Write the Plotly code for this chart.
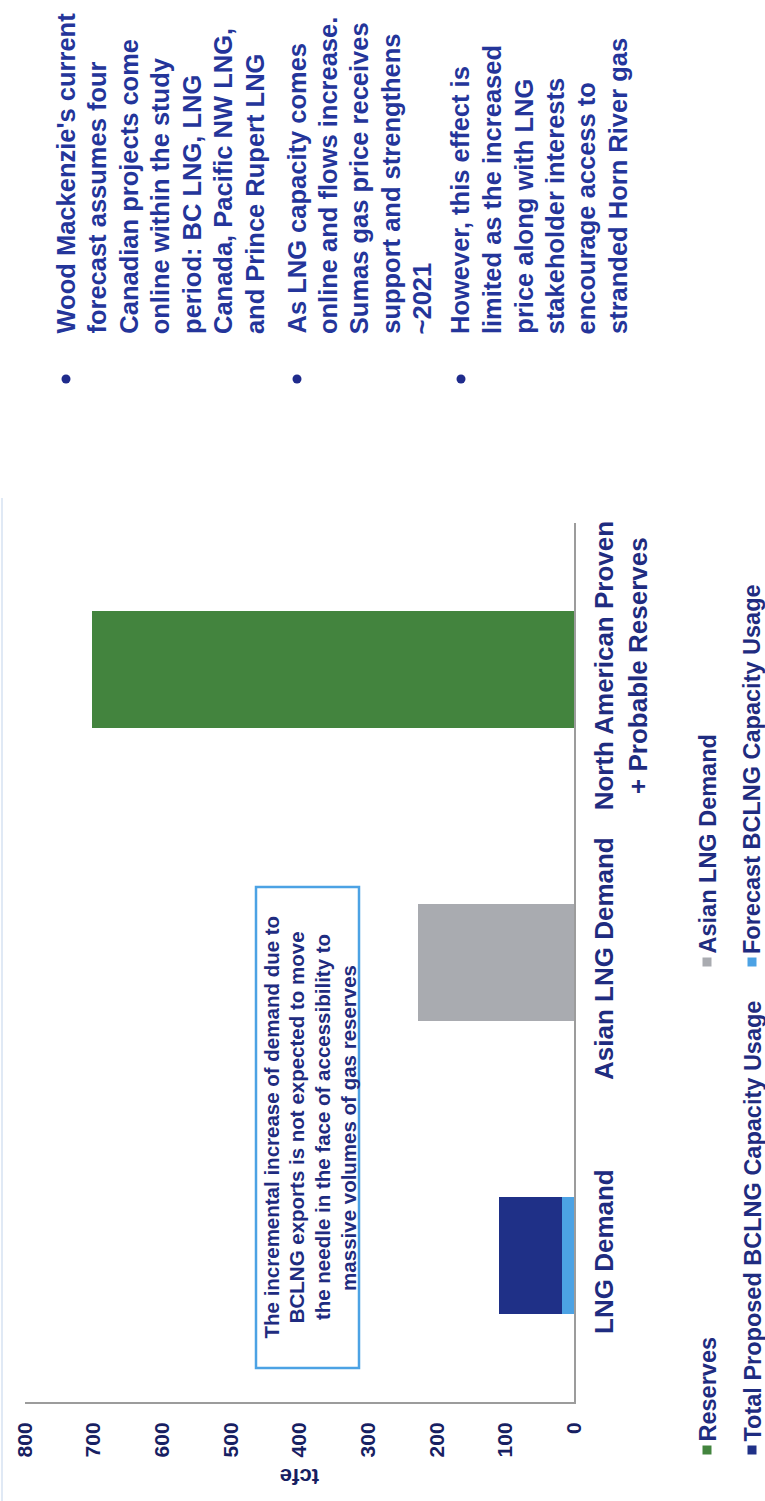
import plotly.graph_objects as go

# ---- data -------------------------------------------------------------
categories = ["LNG Demand", "Asian LNG Demand",
              "North American Proven<br>+ Probable Reserves"]
forecast_bclng = [18, 0, 0]          # Forecast BCLNG Capacity Usage (tcfe)
total_proposed_bclng = [91, 0, 0]    # Total Proposed BCLNG Capacity Usage (tcfe)
asian_lng = [0, 227, 0]              # Asian LNG Demand (tcfe)
reserves = [0, 0, 703]               # Reserves (tcfe)
value_ticks = [0, 100, 200, 300, 400, 500, 600, 700, 800]

series_names = ["Reserves", "Asian LNG Demand",
                "Total Proposed BCLNG Capacity Usage",
                "Forecast BCLNG Capacity Usage"]

bullets = [
    ["Wood Mackenzie's current", "forecast assumes four", "Canadian projects come",
     "online within the study", "period: BC LNG, LNG", "Canada, Pacific NW LNG,",
     "and Prince Rupert LNG"],
    ["As LNG capacity comes", "online and flows increase.", "Sumas gas price receives",
     "support and strengthens", "~2021"],
    ["However, this effect is", "limited as the increased", "price along with LNG",
     "stakeholder interests", "encourage access to", "stranded Horn River gas"],
]
callout = ["The incremental increase of demand due to",
           "BCLNG exports is not expected to move",
           "the needle in the face of accessibility to",
           "massive volumes of gas reserves"]

# ---- styling ----------------------------------------------------------
W, H = 765, 1501
L, R, T, B = 25, 191, 523, 99
FONT = "Liberation Sans, Arial, sans-serif"
GREEN = "#43843e"
GREY = "#a9abb0"
DARK_BLUE = "#1f3087"
LIGHT_BLUE = "#4ca2e4"
NAVY = "#1f2c80"
TICK_NAVY = "#172062"
BULLET_NAVY = "#24359a"
AXIS_GREY = "#9c9c9c"


def px_x(px):
    return (px - L) / (W - L - R)


def px_y(py):
    return (H - B - py) / (H - T - B)


fig = go.Figure()
colors = {"Reserves": GREEN, "Asian LNG Demand": GREY,
          "Total Proposed BCLNG Capacity Usage": DARK_BLUE,
          "Forecast BCLNG Capacity Usage": LIGHT_BLUE}
for name, vals in [("Forecast BCLNG Capacity Usage", forecast_bclng),
                   ("Total Proposed BCLNG Capacity Usage", total_proposed_bclng),
                   ("Asian LNG Demand", asian_lng),
                   ("Reserves", reserves)]:
    fig.add_trace(go.Bar(y=categories, x=vals, name=name, orientation="h",
                         width=0.4, marker=dict(color=colors[name], line=dict(width=0)),
                         showlegend=False))

annotations = []
shapes = []

# bullet points: one rotated annotation per line, all starting at the same edge
line_step = 31.6
bullet_first_line = [65, 296, 460]
for lines, x0 in zip(bullets, bullet_first_line):
    for k, txt in enumerate(lines):
        annotations.append(dict(text=txt, xref="paper", yref="paper",
                                x=px_x(x0 + k * line_step), y=px_y(335),
                                xanchor="center", yanchor="bottom", textangle=-90,
                                showarrow=False, borderpad=0,
                                font=dict(family=FONT, size=25.5, color=BULLET_NAVY,
                                          weight="bold")))
    shapes.append(dict(type="circle", xref="paper", yref="paper",
                       x0=px_x(x0 + 1 - 4.5), x1=px_x(x0 + 1 + 4.5),
                       y0=px_y(379 + 4.5), y1=px_y(379 - 4.5),
                       fillcolor="#1f2b8c", line=dict(width=0)))

# callout box with centred lines
shapes.append(dict(type="rect", xref="paper", yref="paper",
                   x0=px_x(256), x1=px_x(359), y0=px_y(1368), y1=px_y(887),
                   line=dict(color=LIGHT_BLUE, width=2.5), fillcolor="white", layer="above"))
for k, txt in enumerate(callout):
    annotations.append(dict(text=txt, xref="paper", yref="paper",
                            x=px_x(271 + k * 25.8), y=px_y(1127.5),
                            xanchor="center", yanchor="middle", textangle=-90,
                            showarrow=False, borderpad=0,
                            font=dict(family=FONT, size=20.5, color=NAVY, weight="bold")))

# axis title
annotations.append(dict(text="tcfe", xref="paper", yref="paper", x=px_x(300), y=px_y(1477),
                        xanchor="center", yanchor="middle", textangle=180, showarrow=False,
                        font=dict(family=FONT, size=22, color=TICK_NAVY, weight="bold")))

# legend
legend_pos = {"Reserves": (707, 1450), "Total Proposed BCLNG Capacity Usage": (752, 1450),
              "Asian LNG Demand": (707, 962), "Forecast BCLNG Capacity Usage": (752, 962)}
for name in series_names:
    cx, cy = legend_pos[name]
    shapes.append(dict(type="rect", xref="paper", yref="paper",
                       x0=px_x(cx - 4.5), x1=px_x(cx + 4.5),
                       y0=px_y(cy + 4.5), y1=px_y(cy - 4.5),
                       fillcolor=colors[name], line=dict(width=0)))
    annotations.append(dict(text=name, xref="paper", yref="paper", x=px_x(cx), y=px_y(cy - 7),
                            xanchor="center", yanchor="bottom", textangle=-90, showarrow=False,
                            borderpad=0,
                            font=dict(family=FONT, size=23.5, color=NAVY, weight="bold")))

# faint frame edge
shapes.append(dict(type="line", xref="paper", yref="paper", x0=px_x(2), x1=px_x(2),
                   y0=px_y(498), y1=px_y(H), line=dict(color="#e0e9f5", width=2)))

fig.update_layout(
    width=W, height=H, margin=dict(l=L, r=R, t=T, b=B),
    paper_bgcolor="white", plot_bgcolor="white",
    barmode="stack", bargap=0.6,
    annotations=annotations, shapes=shapes,
    xaxis=dict(range=[800, 0], tickvals=value_ticks, ticktext=[str(v) for v in value_ticks],
               tickangle=-90, showgrid=False, zeroline=False, showline=True,
               linecolor=AXIS_GREY, linewidth=2, ticks="", ticklabelstandoff=10,
               tickfont=dict(family=FONT, size=21, color=TICK_NAVY, weight="bold")),
    yaxis=dict(type="category", categoryorder="array", categoryarray=categories,
               range=[-0.5, 2.5], side="right", tickangle=-90, showgrid=False,
               zeroline=False, showline=True, linecolor=AXIS_GREY, linewidth=2, ticks="",
               ticklabelstandoff=6,
               tickfont=dict(family=FONT, size=26, color=NAVY, weight="bold")),
)

fig.write_html("out.html")
